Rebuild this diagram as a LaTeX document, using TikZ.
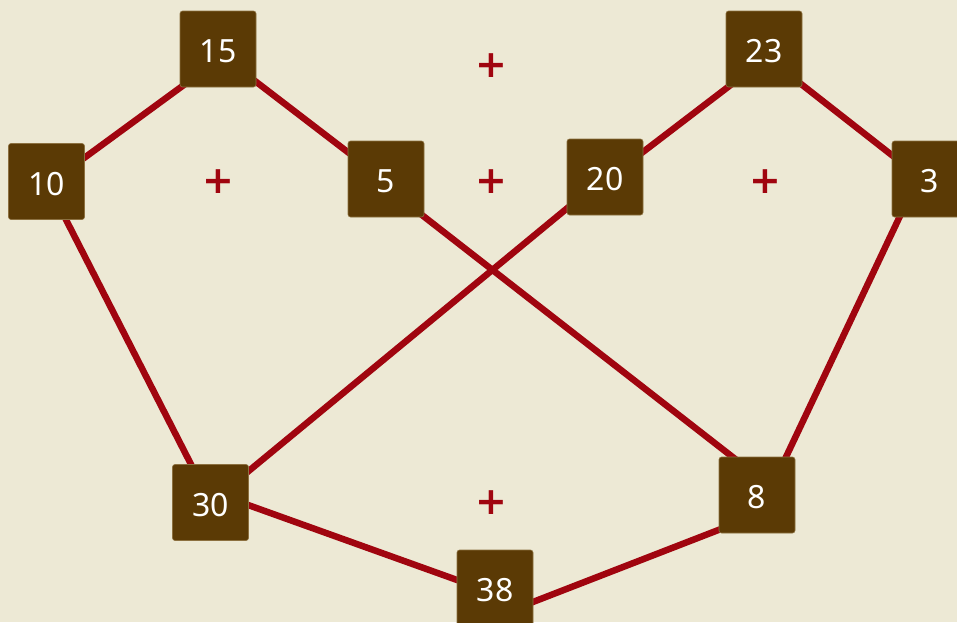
\documentclass[tikz,border=0pt]{standalone}
\usepackage{fontspec}
\setmainfont{Noto Sans}
\newfontfamily\plusfont{DejaVu Sans}
\usetikzlibrary{backgrounds,calc}
\definecolor{bgc}{HTML}{EDE9D5}
\definecolor{boxc}{HTML}{5B3A05}
\definecolor{boxb}{HTML}{8C7040}
\definecolor{linec}{HTML}{A0050F}
\tikzset{
  numbox/.style={draw=boxb, line width=0.6pt, fill=boxc, rounded corners=2.5pt,
    minimum width=76pt, minimum height=76pt, inner sep=0pt, text=white,
    text height=27pt, text depth=0pt,
    font=\fontsize{32}{32}\selectfont},
  link/.style={draw=linec, line width=6.5pt},
  plus/.style={text=linec, inner sep=0pt, font=\plusfont\bfseries\fontsize{38}{38}\selectfont}
}
\begin{document}
\begin{tikzpicture}[x=1pt,y=-1pt]
\useasboundingbox (0,0) rectangle (957,622);
\clip (0,0) rectangle (957,622);
\node[numbox] (n15) at (218,49) {15};
\node[numbox] (n23) at (764,49) {23};
\node[numbox] (n10) at (46.5,181.5) {10};
\node[numbox] (n5) at (386,179) {5};
\node[numbox] (n20) at (605,177) {20};
\node[numbox] (n3) at (930,179) {3};
\node[numbox] (n30) at (210.5,502.5) {30};
\node[numbox] (n8) at (757,495) {8};
\node[numbox] (n38) at (495,588) {38};
\node[plus] (p1) at (491,66) {+};
\node[plus] (p2) at (218,182) {+};
\node[plus] (p3) at (491,182) {+};
\node[plus] (p4) at (765,182) {+};
\node[plus] (p5) at (491,503) {+};
\begin{scope}[on background layer]
\fill[bgc] (0,0) rectangle (957,622);
\draw[link] ($(n10.center)+(0,4)$) -- ($(n15.center)+(0,11)$);
\draw[link] ($(n15.center)+(0,3.6)$) -- ($(n5.center)+(0,2.4)$);
\draw[link] ($(n5.center)+(0,8)$) -- ($(n8.center)+(0,-19)$);
\draw[link] (n10.center) -- (n30.center);
\draw[link] (n30.center) -- (n20.center);
\draw[link] ($(n20.center)+(0,4)$) -- ($(n23.center)+(0,10.5)$);
\draw[link] ($(n23.center)+(0,6)$) -- ($(n3.center)+(0,6)$);
\draw[link] ($(n3.center)+(-12.5,0)$) -- ($(n8.center)+(11,0)$);
\draw[link] ($(n30.center)+(0,-11)$) -- ($(n38.center)+(0,5.6)$);
\draw[link] ($(n38.center)+(0,28.7)$) -- ($(n8.center)+(0,20)$);
\end{scope}
\end{tikzpicture}
\end{document}
